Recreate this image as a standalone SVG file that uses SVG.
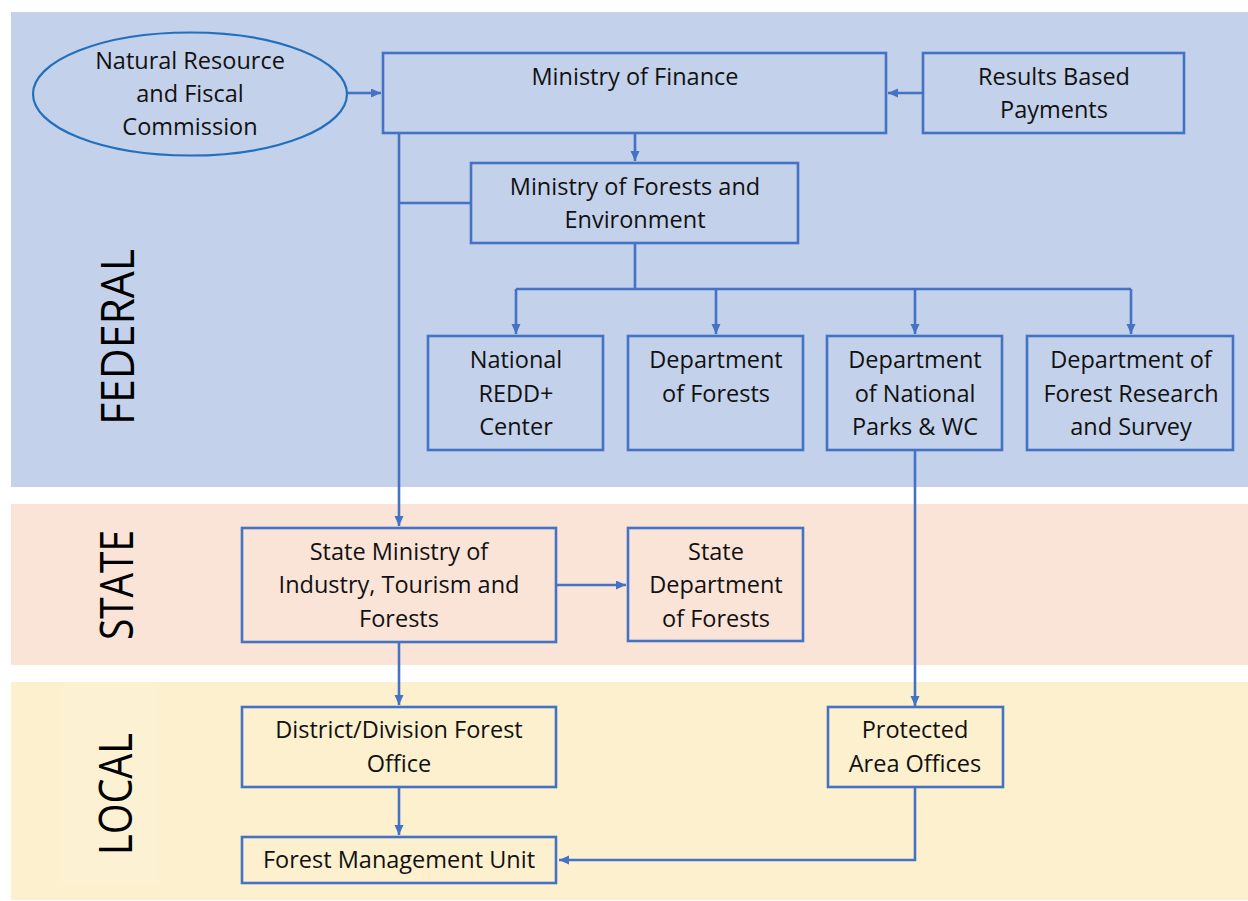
<svg xmlns="http://www.w3.org/2000/svg" width="1248" height="901" viewBox="0 0 1248 901">
  <style>
    .band-label { font-family: "Open Sans", "Liberation Sans", sans-serif; font-size: 46px; fill: #000; }
    .box { fill: none; stroke: #4472C4; stroke-width: 2.6; }
    .oval { fill: none; stroke: #2270BD; stroke-width: 2.2; }
    .lbl { font-family: "Open Sans", "Liberation Sans", sans-serif; font-size: 23.5px; fill: #111; text-anchor: middle; }
    .conn { fill: none; stroke: #4472C4; stroke-width: 2.6; }
  </style>
  <defs>
    <marker id="arrow" markerUnits="userSpaceOnUse" markerWidth="11" markerHeight="10" refX="10" refY="4.5" orient="auto">
      <path d="M0,0 L10,4.5 L0,9 Z" fill="#4472C4"/>
    </marker>
  </defs>

  <rect width="1248" height="901" fill="#ffffff"/>

  <!-- tier bands -->
  <g id="bands">
    <rect x="11" y="12" width="1237" height="475" fill="#C3D1EB"/>
    <rect x="11" y="504" width="1237" height="161" fill="#FAE4D8"/>
    <rect x="11" y="682" width="1237" height="218" fill="#FDF0CF"/>
    <rect x="62" y="687" width="96" height="196" fill="#FDF1D3"/>
  </g>

  <g id="tier-labels">
    <text class="band-label" transform="translate(134,337) rotate(-90)" text-anchor="middle" textLength="176" lengthAdjust="spacingAndGlyphs">FEDERAL</text>
    <text class="band-label" transform="translate(133,585) rotate(-90)" text-anchor="middle" textLength="110" lengthAdjust="spacingAndGlyphs">STATE</text>
    <text class="band-label" transform="translate(132,794) rotate(-90)" text-anchor="middle" textLength="122" lengthAdjust="spacingAndGlyphs">LOCAL</text>
  </g>

  <!-- connectors -->
  <g id="connectors">
    <path class="conn" d="M347,93 H381" marker-end="url(#arrow)"/>
    <path class="conn" d="M923,93 H888" marker-end="url(#arrow)"/>
    <path class="conn" d="M635,133 V161" marker-end="url(#arrow)"/>
    <path class="conn" d="M399,133 V526" marker-end="url(#arrow)"/>
    <path class="conn" d="M471,203 H399"/>
    <path class="conn" d="M635,243 V289"/>
    <path class="conn" d="M516,289 H1131"/>
    <path class="conn" d="M516,289 V334" marker-end="url(#arrow)"/>
    <path class="conn" d="M716,289 V334" marker-end="url(#arrow)"/>
    <path class="conn" d="M915,289 V334" marker-end="url(#arrow)"/>
    <path class="conn" d="M1131,289 V334" marker-end="url(#arrow)"/>
    <path class="conn" d="M556,585 H626" marker-end="url(#arrow)"/>
    <path class="conn" d="M399,642 V705" marker-end="url(#arrow)"/>
    <path class="conn" d="M399,787 V835" marker-end="url(#arrow)"/>
    <path class="conn" d="M915,450 V706" marker-end="url(#arrow)"/>
    <path class="conn" d="M915,787 V860 H559" marker-end="url(#arrow)"/>
  </g>

  <!-- federal level -->
  <g id="nrfc">
    <ellipse class="oval" cx="190" cy="94" rx="157" ry="61.5"/>
    <text class="lbl" x="190" y="69">Natural Resource</text>
    <text class="lbl" x="190" y="102">and Fiscal</text>
    <text class="lbl" x="190" y="135">Commission</text>
  </g>
  <g id="mof">
    <rect class="box" x="383" y="53" width="503" height="80"/>
    <text class="lbl" x="635" y="85">Ministry of Finance</text>
  </g>
  <g id="rbp">
    <rect class="box" x="923" y="53" width="261" height="80"/>
    <text class="lbl" x="1054" y="85">Results Based</text>
    <text class="lbl" x="1054" y="118">Payments</text>
  </g>
  <g id="mofe">
    <rect class="box" x="471" y="163" width="327" height="80"/>
    <text class="lbl" x="635" y="195">Ministry of Forests and</text>
    <text class="lbl" x="635" y="228">Environment</text>
  </g>
  <g id="redd">
    <rect class="box" x="428" y="336" width="175" height="114"/>
    <text class="lbl" x="516" y="368">National</text>
    <text class="lbl" x="516" y="402">REDD+</text>
    <text class="lbl" x="516" y="435">Center</text>
  </g>
  <g id="dof">
    <rect class="box" x="628" y="336" width="175" height="114"/>
    <text class="lbl" x="716" y="368">Department</text>
    <text class="lbl" x="716" y="402">of Forests</text>
  </g>
  <g id="dnpwc">
    <rect class="box" x="827" y="336" width="175" height="114"/>
    <text class="lbl" x="915" y="368">Department</text>
    <text class="lbl" x="915" y="402">of National</text>
    <text class="lbl" x="915" y="435">Parks &amp; WC</text>
  </g>
  <g id="dfrs">
    <rect class="box" x="1027" y="336" width="206" height="114"/>
    <text class="lbl" x="1131" y="368">Department of</text>
    <text class="lbl" x="1131" y="402">Forest Research</text>
    <text class="lbl" x="1131" y="435">and Survey</text>
  </g>

  <!-- state level -->
  <g id="state-ministry">
    <rect class="box" x="242" y="528" width="314" height="114"/>
    <text class="lbl" x="399" y="560">State Ministry of</text>
    <text class="lbl" x="399" y="593">Industry, Tourism and</text>
    <text class="lbl" x="399" y="627">Forests</text>
  </g>
  <g id="state-dof">
    <rect class="box" x="628" y="528" width="175" height="113"/>
    <text class="lbl" x="716" y="560">State</text>
    <text class="lbl" x="716" y="593">Department</text>
    <text class="lbl" x="716" y="627">of Forests</text>
  </g>

  <!-- local level -->
  <g id="dfo">
    <rect class="box" x="242" y="707" width="314" height="80"/>
    <text class="lbl" x="399" y="738">District/Division Forest</text>
    <text class="lbl" x="399" y="772">Office</text>
  </g>
  <g id="pao">
    <rect class="box" x="828" y="707" width="175" height="80"/>
    <text class="lbl" x="915" y="738">Protected</text>
    <text class="lbl" x="915" y="772">Area Offices</text>
  </g>
  <g id="fmu">
    <rect class="box" x="242" y="837" width="314" height="46"/>
    <text class="lbl" x="399" y="868">Forest Management Unit</text>
  </g>
</svg>
